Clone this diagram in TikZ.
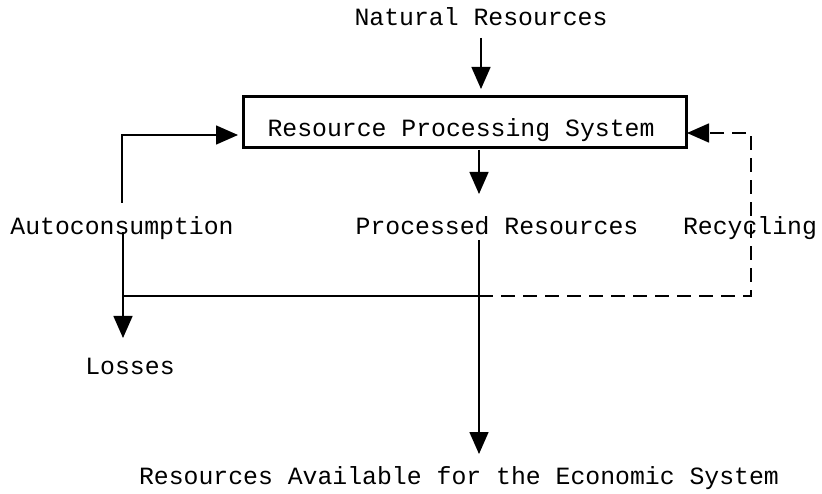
\documentclass[tikz,border=0pt]{standalone}
\usepackage{fontspec}
\newfontfamily\courfont{Liberation Mono}
\usetikzlibrary{arrows.meta}
\begin{document}
\begin{tikzpicture}[x=1pt,y=-1pt,
  lbl/.style={font=\courfont\fontsize{24.8}{30}\selectfont, inner sep=0pt, anchor=base},
  conn/.style={line width=1.5pt},
  arr/.style={conn, -{Triangle[length=22pt,width=19pt]}},
  procbox/.style={draw, line width=3pt, minimum width=443pt, minimum height=51pt, inner sep=0pt}]
\useasboundingbox (0,0) rectangle (822,494);
% nodes
\node[lbl] (nat) at (481,26) {Natural Resources};
\node[procbox] (box) at (464.5,122.5) {};
\node[lbl] (boxtext) at (461,137) {Resource Processing System};
\node[lbl] (auto) at (122,235) {Autoconsumption};
\node[lbl] (proc) at (497,235) {Processed Resources};
\node[lbl] (recyc) at (750,235) {Recycling};
\node[lbl] (loss) at (130,374) {Losses};
\node[lbl] (avail) at (459,484) {Resources Available for the Economic System};
% coordinates
\coordinate (natS) at (481,38);
\coordinate (boxN) at (481,89);
\coordinate (autoN) at (122,203);
\coordinate (boxW) at (238,135);
\coordinate (autoS) at (123,232);
\coordinate (lossN) at (123,338);
\coordinate (junc) at (479,296);
\coordinate (corner) at (751,296);
\coordinate (boxE) at (687,133);
\coordinate (boxS) at (479,150);
\coordinate (procN) at (479,194);
\coordinate (procS) at (479,240);
\coordinate (availN) at (479,454);
% connectors
\draw[arr] (natS) -- (boxN);
\draw[arr] (autoN) |- (boxW);
\draw[arr] (autoS) -- (lossN);
\draw[conn] (autoS |- junc) -- (junc);
\draw[arr, dash pattern=on 14pt off 8pt] (junc) -- (corner) |- (boxE);
\draw[arr] (boxS) -- (procN);
\draw[arr] (procS) -- (availN);
\end{tikzpicture}
\end{document}
